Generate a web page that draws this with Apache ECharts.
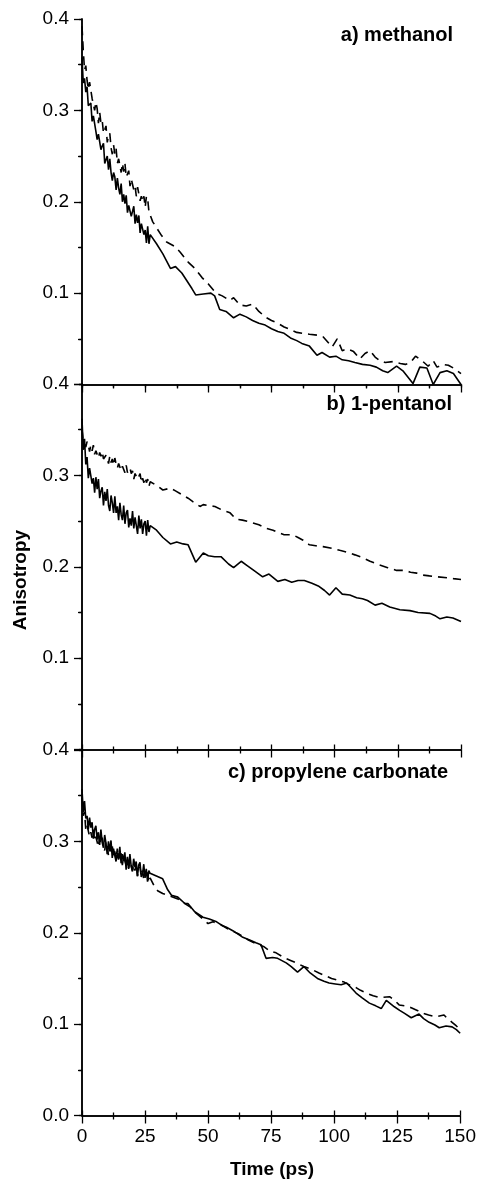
<!DOCTYPE html>
<html>
<head>
<meta charset="utf-8">
<script src="https://cdn.jsdelivr.net/npm/echarts@6/dist/echarts.min.js"></script>
<style>
  body { margin: 0; background: #fff; }
  #chart { width: 479px; height: 1180px; }
</style>
</head>
<body>
<div id="chart"></div>
<script>
// early (densely sampled) part, shared time grid in ps
const denseTime = [0, 0.5, 1, 1.5, 2, 2.5, 3, 3.5, 4, 4.5, 5, 5.5, 6, 6.5, 7, 7.5, 8, 8.5, 9, 9.5,
  10, 10.5, 11, 11.5, 12, 12.5, 13, 13.5, 14, 14.5, 15, 15.5, 16, 16.5, 17, 17.5, 18, 18.5, 19, 19.5,
  20, 20.5, 21, 21.5, 22, 22.5, 23, 23.5, 24, 24.5, 25, 25.5, 26, 26.5, 27]

const panelTitles = ['a) methanol', 'b) 1-pentanol', 'c) propylene carbonate']
const yTicks = [0, 0.1, 0.2, 0.3, 0.4]
const xTicks = [0, 25, 50, 75, 100, 125, 150]

// a) methanol
const methSolidDense = [0.358, 0.330, 0.335, 0.320, 0.326, 0.305, 0.305, 0.308, 0.288, 0.294, 0.296, 0.277, 0.268, 0.274, 0.274, 0.257, 0.261, 0.264, 0.242, 0.246,
  0.250, 0.235, 0.247, 0.232, 0.223, 0.232, 0.227, 0.213, 0.226, 0.215, 0.208, 0.220, 0.200, 0.208, 0.198, 0.207, 0.188, 0.196, 0.198, 0.184,
  0.186, 0.195, 0.176, 0.186, 0.177, 0.185, 0.166, 0.176, 0.177, 0.164, 0.169, 0.155, 0.173, 0.154, 0.164]
const methSolidTail = [[29.5, 0.154], [32, 0.143], [35, 0.127], [37, 0.129], [39.5, 0.122], [43.5, 0.105], [45, 0.098], [48, 0.099],
  [51, 0.100], [52.5, 0.097], [54.5, 0.082], [57, 0.080], [60, 0.073], [62.5, 0.077], [65, 0.074], [67.5, 0.070], [70, 0.067],
  [72.5, 0.065], [75, 0.061], [77.5, 0.058], [80, 0.056], [82.5, 0.051], [85, 0.048], [87, 0.045], [90, 0.042], [93, 0.032],
  [95, 0.035], [98, 0.030], [100.5, 0.031], [103, 0.027], [105.5, 0.026], [108, 0.024], [111, 0.022], [114, 0.021], [116.5, 0.019],
  [119, 0.015], [121, 0.013], [124.5, 0.020], [127, 0.015], [131, 0.001], [133.7, 0.019], [136.5, 0.018], [139, 0.0],
  [141.7, 0.013], [144.4, 0.015], [147, 0.012], [150, 0.0]]
const methDashDense = [0.392, 0.366, 0.344, 0.349, 0.333, 0.323, 0.331, 0.331, 0.313, 0.314, 0.300, 0.309, 0.302, 0.286, 0.298, 0.286, 0.289, 0.275, 0.277, 0.283,
  0.265, 0.272, 0.275, 0.259, 0.252, 0.262, 0.252, 0.258, 0.242, 0.247, 0.249, 0.232, 0.242, 0.233, 0.242, 0.227, 0.229, 0.234, 0.217, 0.225,
  0.226, 0.213, 0.217, 0.206, 0.216, 0.217, 0.201, 0.206, 0.200, 0.206, 0.194, 0.206, 0.203, 0.189, 0.190]
const methDashTail = [[28, 0.178], [31.5, 0.163], [33.5, 0.156], [36.8, 0.151], [38.8, 0.145], [42, 0.134], [44.7, 0.127], [47.5, 0.117],
  [50, 0.110], [53, 0.100], [55.5, 0.097], [58.5, 0.092], [60, 0.095], [62.5, 0.087], [65, 0.086], [67.5, 0.088], [70, 0.080],
  [72.5, 0.074], [75, 0.070], [77.5, 0.067], [80, 0.063], [82.5, 0.060], [85, 0.057], [87.5, 0.056], [90, 0.055], [93, 0.054],
  [95.5, 0.052], [99, 0.041], [101, 0.050], [103, 0.037], [105, 0.039], [107.5, 0.036], [110, 0.028], [112, 0.034], [114, 0.037],
  [116, 0.030], [118, 0.026], [120, 0.024], [123, 0.025], [126, 0.023], [128, 0.022], [130, 0.024], [132, 0.031], [135, 0.025],
  [137, 0.020], [139, 0.026], [140.5, 0.019], [143, 0.022], [145, 0.021], [147, 0.018], [150, 0.012]]

// b) 1-pentanol
const pentSolidDense = [0.362, 0.328, 0.340, 0.312, 0.320, 0.297, 0.308, 0.310, 0.291, 0.297, 0.281, 0.298, 0.285, 0.296, 0.275, 0.283, 0.287, 0.267, 0.282, 0.272,
  0.285, 0.267, 0.261, 0.278, 0.270, 0.259, 0.277, 0.259, 0.266, 0.251, 0.270, 0.257, 0.251, 0.267, 0.247, 0.259, 0.262, 0.243, 0.253, 0.245,
  0.261, 0.242, 0.254, 0.245, 0.236, 0.256, 0.242, 0.252, 0.236, 0.247, 0.250, 0.234, 0.251, 0.238, 0.245]
const pentSolidTail = [[29.5, 0.240], [32, 0.232], [35, 0.225], [37.5, 0.227], [40, 0.225], [42, 0.224], [45, 0.205], [48, 0.215],
  [50, 0.212], [52.5, 0.211], [55, 0.211], [58, 0.203], [60, 0.199], [63, 0.206], [65.5, 0.201], [68, 0.196], [71.5, 0.189],
  [74, 0.192], [77.5, 0.184], [80.3, 0.186], [83, 0.183], [85.5, 0.185], [88, 0.185], [91, 0.182], [93.5, 0.179], [96, 0.174],
  [98, 0.169], [100.5, 0.177], [103, 0.170], [106, 0.169], [108.7, 0.166], [111, 0.165], [113, 0.163], [116, 0.158], [118.7, 0.160],
  [121.8, 0.156], [125.8, 0.153], [129.8, 0.152], [133, 0.150], [137.7, 0.149], [140, 0.146], [141.7, 0.143], [144.4, 0.145],
  [146.8, 0.144], [150, 0.140]]
const pentDashDense = [0.350, 0.337, 0.339, 0.331, 0.337, 0.333, 0.326, 0.333, 0.327, 0.333, 0.323, 0.327, 0.329, 0.319, 0.325, 0.321, 0.326, 0.318, 0.316, 0.322,
  0.320, 0.313, 0.321, 0.314, 0.318, 0.311, 0.319, 0.312, 0.308, 0.313, 0.315, 0.305, 0.310, 0.311, 0.303, 0.311, 0.303, 0.301, 0.308, 0.302,
  0.305, 0.296, 0.302, 0.303, 0.296, 0.296, 0.302, 0.292, 0.297, 0.292, 0.298, 0.292, 0.296, 0.288, 0.293]
const pentDashTail = [[29.5, 0.289], [32, 0.284], [35, 0.286], [37, 0.283], [39.5, 0.279], [42, 0.275], [44, 0.271], [46.7, 0.266],
  [48, 0.268], [50, 0.267], [52.6, 0.266], [55.5, 0.262], [58.6, 0.259], [61, 0.252], [63.5, 0.251], [66.5, 0.249], [70, 0.246],
  [73, 0.242], [75.6, 0.240], [78, 0.237], [80, 0.235], [83.4, 0.235], [85.5, 0.232], [87.5, 0.229], [90, 0.224], [92.5, 0.223],
  [95.4, 0.222], [99.4, 0.220], [102, 0.218], [104.8, 0.216], [108, 0.213], [111, 0.210], [114, 0.206], [117.8, 0.202], [121, 0.199],
  [124.5, 0.196], [127.8, 0.196], [130, 0.194], [132.5, 0.193], [134.6, 0.191], [137.5, 0.190], [140.5, 0.189], [144.4, 0.188],
  [147, 0.187], [150, 0.186]]

// c) propylene carbonate
const pcSolidDense = [0.357, 0.332, 0.344, 0.325, 0.328, 0.313, 0.326, 0.315, 0.321, 0.303, 0.313, 0.317, 0.302, 0.310, 0.296, 0.313, 0.299, 0.293, 0.307, 0.298,
  0.286, 0.300, 0.289, 0.301, 0.282, 0.292, 0.294, 0.278, 0.288, 0.280, 0.294, 0.276, 0.286, 0.279, 0.288, 0.269, 0.283, 0.271, 0.286, 0.273,
  0.267, 0.281, 0.272, 0.278, 0.262, 0.274, 0.277, 0.261, 0.264, 0.275, 0.260, 0.270, 0.256, 0.268, 0.265]
const pcSolidTail = [[29.5, 0.262], [32, 0.259], [34, 0.247], [35.5, 0.241], [38, 0.239], [40.8, 0.232], [42, 0.232], [44.7, 0.223],
  [48, 0.217], [50.5, 0.215], [53.4, 0.212], [55.5, 0.208], [57.3, 0.206], [60, 0.202], [63.8, 0.195], [66.5, 0.192], [69, 0.189],
  [71, 0.187], [73, 0.172], [75.6, 0.173], [77.6, 0.172], [81, 0.167], [83, 0.163], [85.5, 0.157], [88, 0.163], [90.5, 0.156],
  [93.4, 0.150], [96, 0.147], [98, 0.145], [100.5, 0.144], [102.8, 0.143], [105, 0.145], [108.7, 0.134], [111, 0.129], [114, 0.123],
  [116.5, 0.120], [118.7, 0.117], [120.7, 0.126], [123.9, 0.119], [126, 0.115], [127.8, 0.112], [130.6, 0.107], [133.7, 0.111],
  [135.5, 0.106], [137.7, 0.102], [140, 0.099], [141.7, 0.096], [144.4, 0.098], [146.8, 0.097], [148.5, 0.094], [150, 0.090]]
const pcDashDense = [0.348, 0.328, 0.332, 0.313, 0.318, 0.318, 0.305, 0.310, 0.304, 0.313, 0.300, 0.305, 0.306, 0.294, 0.303, 0.297, 0.304, 0.293, 0.290, 0.300,
  0.295, 0.285, 0.295, 0.289, 0.295, 0.283, 0.289, 0.280, 0.292, 0.281, 0.281, 0.287, 0.274, 0.283, 0.285, 0.274, 0.278, 0.270, 0.279, 0.281,
  0.268, 0.274, 0.268, 0.276, 0.262, 0.269, 0.272, 0.262, 0.268, 0.258, 0.267, 0.260, 0.266, 0.255, 0.260]
const pcDashTail = [[28.5, 0.252], [30, 0.246], [32, 0.243], [35, 0.240], [38, 0.237], [40.8, 0.232], [43, 0.228], [45, 0.222],
  [48, 0.215], [50, 0.210], [52, 0.212], [55, 0.209], [58.6, 0.203], [62, 0.199], [66, 0.192], [69, 0.188], [72, 0.185],
  [74.5, 0.180], [77, 0.178], [80, 0.173], [82.5, 0.170], [85, 0.167], [88, 0.163], [91, 0.160], [94, 0.156], [96.5, 0.153],
  [99, 0.150], [101.5, 0.148], [104, 0.146], [106, 0.143], [108.7, 0.140], [110.5, 0.137], [112.8, 0.134], [115.5, 0.131],
  [118, 0.129], [122, 0.130], [124, 0.126], [125.8, 0.121], [128, 0.120], [130.6, 0.118], [133, 0.115], [135, 0.112],
  [137.5, 0.110], [140.5, 0.108], [143.6, 0.110], [145, 0.106], [146.8, 0.102], [148.5, 0.098], [150, 0.094]]

const panels = [
  { solid: [methSolidDense, methSolidTail], dashed: [methDashDense, methDashTail] },
  { solid: [pentSolidDense, pentSolidTail], dashed: [pentDashDense, pentDashTail] },
  { solid: [pcSolidDense, pcSolidTail], dashed: [pcDashDense, pcDashTail] },
]

const joinData = (dense, tail) => denseTime.map((t, i) => [t, dense[i]]).concat(tail)

const FONT = 'Liberation Sans, Arial, Helvetica, sans-serif'
const gridTops = [19, 384, 750]
const gridH = 365.5

const chart = echarts.init(document.getElementById('chart'))

const grid = []
const xAxis = []
const yAxis = []
const series = []
const graphic = []

panels.forEach((p, i) => {
  grid.push({ left: 82, right: 18, top: gridTops[i], height: gridH })
  const last = i === panels.length - 1

  // bottom x axis
  xAxis.push({
    type: 'value',
    gridIndex: i,
    position: 'bottom',
    min: xTicks[0],
    max: xTicks[xTicks.length - 1],
    interval: 25,
    axisLine: { lineStyle: { color: '#000', width: 1.5 } },
    axisTick: { show: true, inside: false, length: 8, lineStyle: { color: '#000', width: 1.3 } },
    minorTick: { show: true, splitNumber: 2, length: 4, lineStyle: { color: '#000', width: 1.3 } },
    axisLabel: { show: last, color: '#000', fontSize: 19, fontFamily: FONT, margin: 12 },
    splitLine: { show: false },
  })
  // top x axis
  xAxis.push({
    type: 'value',
    gridIndex: i,
    position: 'top',
    min: 0,
    max: 150,
    interval: 25,
    axisLine: { lineStyle: { color: '#000', width: 1.5 } },
    axisTick: { show: true, inside: i === 0, length: i === 0 ? 3 : 5, lineStyle: { color: '#000', width: 1.3 } },
    minorTick: { show: true, splitNumber: 2, length: 3, lineStyle: { color: '#000', width: 1.3 } },
    axisLabel: { show: false },
    splitLine: { show: false },
  })
  // left y axis
  yAxis.push({
    type: 'value',
    gridIndex: i,
    position: 'left',
    min: yTicks[0],
    max: yTicks[yTicks.length - 1],
    interval: 0.1,
    axisLine: { show: true, lineStyle: { color: '#000', width: 1.5 } },
    axisTick: { show: true, inside: false, length: 8, lineStyle: { color: '#000', width: 1.3 } },
    minorTick: { show: true, splitNumber: 2, length: 4, lineStyle: { color: '#000', width: 1.3 } },
    axisLabel: {
      color: '#000', fontSize: 19, fontFamily: FONT, margin: 13,
      formatter: (v) => (!last && v === 0 ? '' : v.toFixed(1)),
    },
    splitLine: { show: false },
  })
  // right y axis
  yAxis.push({
    type: 'value',
    gridIndex: i,
    position: 'right',
    min: 0,
    max: 0.4,
    interval: 0.05,
    axisLine: { show: true, lineStyle: { color: '#000', width: 1.5 } },
    axisTick: { show: true, inside: true, length: 3, lineStyle: { color: '#000', width: 1.3 } },
    axisLabel: { show: false },
    splitLine: { show: false },
  })

  series.push({
    type: 'line',
    xAxisIndex: 2 * i,
    yAxisIndex: 2 * i,
    data: joinData(p.dashed[0], p.dashed[1]),
    showSymbol: false,
    silent: true,
    lineStyle: { color: '#000', width: 1.6, type: [9, 6] },
  })
  series.push({
    type: 'line',
    xAxisIndex: 2 * i,
    yAxisIndex: 2 * i,
    data: joinData(p.solid[0], p.solid[1]),
    showSymbol: false,
    silent: true,
    lineStyle: { color: '#000', width: 1.6 },
  })

  graphic.push({
    type: 'text',
    x: [453, 452, 448][i],
    y: [35, 404, 772][i],
    style: {
      text: panelTitles[i],
      font: 'bold 20px ' + FONT,
      fill: '#000',
      textAlign: 'right',
      textVerticalAlign: 'middle',
    },
  })
})

graphic.push({
  type: 'text',
  x: 21,
  y: 580,
  rotation: Math.PI / 2,
  style: {
    text: 'Anisotropy',
    font: 'bold 19px ' + FONT,
    fill: '#000',
    textAlign: 'center',
    textVerticalAlign: 'middle',
  },
})
graphic.push({
  type: 'text',
  x: 272,
  y: 1170,
  style: {
    text: 'Time (ps)',
    font: 'bold 19px ' + FONT,
    fill: '#000',
    textAlign: 'center',
    textVerticalAlign: 'middle',
  },
})

const option = {
  backgroundColor: '#fff',
  animation: false,
  grid,
  xAxis,
  yAxis,
  series,
  graphic,
}

option && chart.setOption(option)
</script>
</body>
</html>
